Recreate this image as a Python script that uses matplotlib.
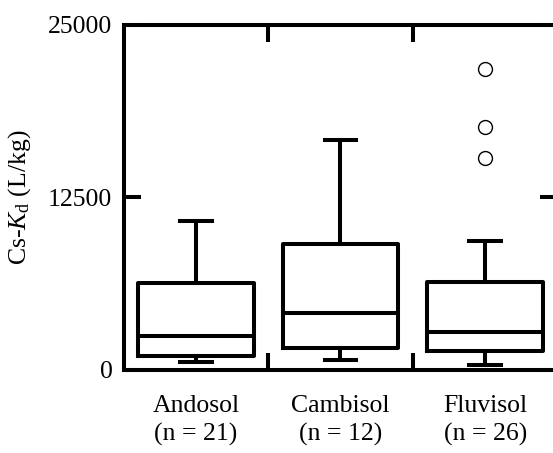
import matplotlib
matplotlib.use("Agg")
import matplotlib.pyplot as plt
from matplotlib.ticker import FixedLocator

plt.rcParams['font.family'] = ['Liberation Serif', 'DejaVu Serif']
plt.rcParams['mathtext.fontset'] = 'custom'
plt.rcParams['mathtext.rm'] = 'Liberation Serif'
plt.rcParams['mathtext.it'] = 'Liberation Serif:italic'

categories = ["Andosol", "Cambisol", "Fluvisol"]
n_counts = [21, 12, 26]
whisker_low = [600, 720, 350]
q1 = [1030, 1620, 1400]
median = [2490, 4150, 2730]
q3 = [6320, 9150, 6350]
whisker_high = [10800, 16670, 9370]
outliers = [[], [], [21800, 17630, 15340]]
yticks = [0, 12500, 25000]

LW = 2.9
fig = plt.figure(figsize=(5.53, 4.53), dpi=100)
ax = fig.add_axes([123.5 / 553, 83 / 453, 434 / 553, 345 / 453])

stats = []
for i, c in enumerate(categories):
    stats.append(dict(label=f"{c}\n(n = {n_counts[i]})", whislo=whisker_low[i], q1=q1[i],
                      med=median[i], q3=q3[i], whishi=whisker_high[i], fliers=outliers[i]))

ax.bxp(stats, positions=[1, 2, 3], widths=0.8, capwidths=0.22, showfliers=True,
       boxprops=dict(color='black', linewidth=LW),
       whiskerprops=dict(color='black', linewidth=LW),
       capprops=dict(color='black', linewidth=LW),
       medianprops=dict(color='black', linewidth=LW),
       flierprops=dict(marker='o', markerfacecolor='white', markeredgecolor='black',
                       markersize=10, markeredgewidth=1.0, linestyle='none'))

ax.set_xlim(0.5, 3.5)
ax.set_ylim(0, 25000)
ax.set_yticks(yticks)
ax.set_yticklabels([str(v) for v in yticks], fontsize=18.5)
ax.tick_params(axis='y', direction='in', length=12, width=LW, pad=8,
               left=True, right=True)
ax.tick_params(axis='x', which='major', length=0, pad=18, labelsize=18.5)
ax.xaxis.set_minor_locator(FixedLocator([1.5, 2.5]))
ax.tick_params(axis='x', which='minor', direction='in', length=12, width=LW,
               top=True, bottom=True)
for lbl in ax.get_xticklabels():
    lbl.set_linespacing(1.35)

for s in ax.spines.values():
    s.set_linewidth(LW)

ax.set_ylabel(r'Cs-$\mathit{K}_{\mathrm{d}}$ (L/kg)', fontsize=18.5, labelpad=11)

fig.savefig("out.png", dpi=100)
